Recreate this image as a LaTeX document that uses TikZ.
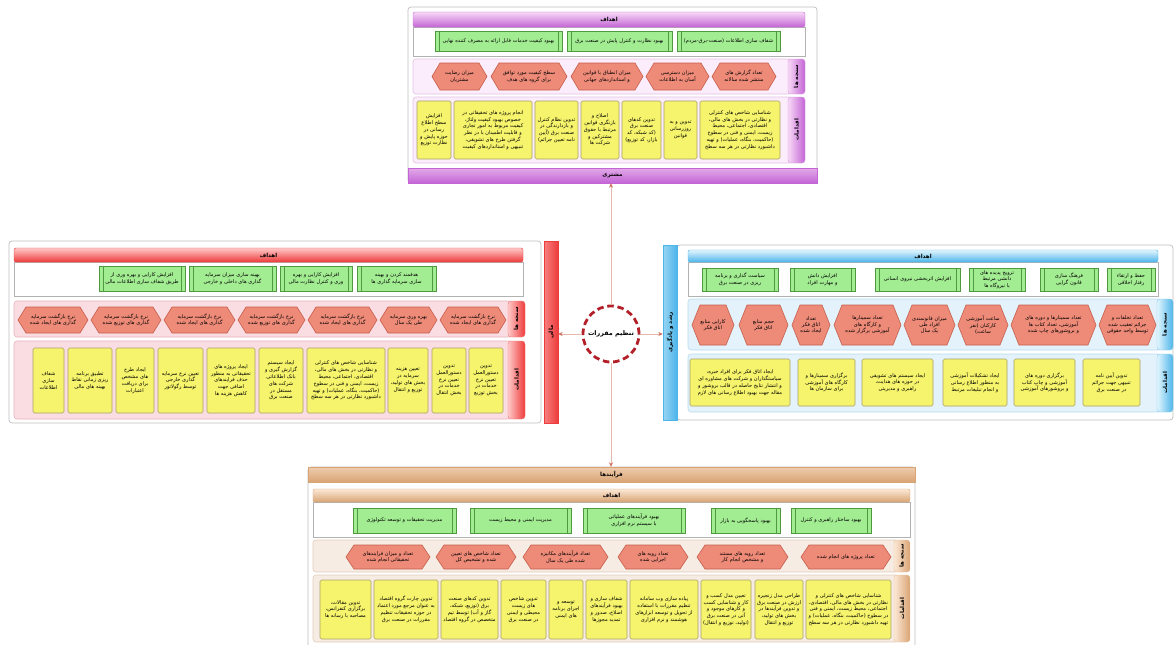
\documentclass[tikz,border=0pt]{standalone}
\usepackage{fontspec}
\newfontfamily\arabicfont[Script=Arabic]{DejaVu Sans}
\TeXXeTstate=1
\usetikzlibrary{arrows.meta}
\newcommand\fa[1]{{\arabicfont #1}}

% theme colours: Lt/Dk = gradient ends, Bd = band fill, Bb = band border
\definecolor{puLt}{HTML}{F7D8F5}\definecolor{puDk}{HTML}{C465D6}
\definecolor{puBd}{HTML}{FBEDFB}\definecolor{puBb}{HTML}{E2C2E4}
\definecolor{rdLt}{HTML}{FFC8C8}\definecolor{rdDk}{HTML}{EE3B3B}
\definecolor{rdBd}{HTML}{FADDE2}\definecolor{rdBb}{HTML}{E8B2BA}
\definecolor{blLt}{HTML}{E2F5FD}\definecolor{blDk}{HTML}{4DB5EA}
\definecolor{blBd}{HTML}{E3F2FB}\definecolor{blBb}{HTML}{B7DCEF}
\definecolor{tnLt}{HTML}{FBE8D6}\definecolor{tnDk}{HTML}{D9A474}
\definecolor{tnBd}{HTML}{F7ECE4}\definecolor{tnBb}{HTML}{E2CCBA}
\definecolor{goalF}{HTML}{A2EC92}\definecolor{goalD}{HTML}{4F9A40}
\definecolor{actF}{HTML}{F6F46C}\definecolor{actD}{HTML}{A89F6A}
\definecolor{hexF}{HTML}{EE8A78}\definecolor{hexD}{HTML}{C65F4D}
\definecolor{connC}{HTML}{E4B9AB}\definecolor{tipC}{HTML}{D0705E}
\definecolor{regC}{HTML}{B3202A}

\tikzset{
  frame/.style={draw=black!25, fill=white, rounded corners=3pt, line width=0.7pt},
  goalarea/.style={draw=black!30, fill=white, line width=0.6pt},
  hdr/.style={top color=#1Lt, bottom color=#1Dk, draw=#1Dk, rounded corners=2pt,
    inner sep=0pt, font=\fontsize{5.6}{6.4}\selectfont\bfseries},
  catbar/.style={top color=#1Lt!60!#1Dk, bottom color=#1Dk, draw=#1Dk, inner sep=0pt,
    font=\fontsize{5.6}{6.4}\selectfont\bfseries},
  vbar/.style={left color=#1Lt!50!#1Dk, right color=#1Dk, draw=#1Dk, inner sep=0pt},
  barlabel/.style={inner sep=0pt, font=\fontsize{5.6}{6.4}\selectfont\bfseries},
  band/.style={fill=#1Bd, draw=#1Bb, rounded corners=3pt, line width=0.6pt},
  tabbox/.style={left color=#1Lt, right color=#1Dk, draw=#1Dk!70!white, rounded corners=3pt,
    inner sep=0pt},
  goalbox/.style={draw=goalD, fill=goalF, line width=0.6pt, inner sep=1pt, align=center,
    font=\fontsize{5.1}{6.6}\selectfont},
  goalline/.style={draw=goalD, line width=0.6pt},
  hex/.style={draw=hexD, fill=hexF, line width=0.6pt},
  hextext/.style={inner sep=0pt, align=center, font=\fontsize{5.1}{6.4}\selectfont},
  actbox/.style={draw=actD, fill=actF, rounded corners=1.5pt, line width=0.6pt, inner sep=1pt,
    align=center, font=\fontsize{5.1}{6.8}\selectfont},
  conn/.style={draw=connC, line width=0.9pt,
    -{Stealth[length=4.5pt,width=4pt,color=tipC,fill=tipC]}},
  hub/.style={circle, draw=regC, fill=white, line width=2.8pt, dash pattern=on 6.5pt off 3.8pt,
    minimum size=56pt, inner sep=0pt, font=\fontsize{6.4}{7.5}\selectfont\bfseries}
}

% green goal box: name, left, right, top, bottom, text
\newcommand\goal[6]{%
  \pgfmathsetmacro\bw{#3-#2}\pgfmathsetmacro\bh{#5-#4}%
  \pgfmathsetmacro\bx{(#2+#3)/2}\pgfmathsetmacro\by{(#4+#5)/2}%
  \pgfmathsetmacro\tw{#3-#2-11}%
  \node[goalbox, minimum width=\bw pt, minimum height=\bh pt, text width=\tw pt] (#1) at (\bx,\by) {\fa{#6}};
  \draw[goalline] ([xshift=4.5pt]#1.north west) -- ([xshift=4.5pt]#1.south west);
  \draw[goalline] ([xshift=-4.5pt]#1.north east) -- ([xshift=-4.5pt]#1.south east);
}
% yellow action box
\newcommand\act[6]{%
  \pgfmathsetmacro\bw{#3-#2}\pgfmathsetmacro\bh{#5-#4}%
  \pgfmathsetmacro\bx{(#2+#3)/2}\pgfmathsetmacro\by{(#4+#5)/2}%
  \pgfmathsetmacro\tw{#3-#2-4}%
  \node[actbox, minimum width=\bw pt, minimum height=\bh pt, text width=\tw pt] (#1) at (\bx,\by) {\fa{#6}};
}
% hexagonal measure
\newcommand\hexa[6]{%
  \pgfmathsetmacro\hm{(#4+#5)/2}\pgfmathsetmacro\hc{(#2+#3)/2}%
  \pgfmathsetmacro\tw{#3-#2-13}%
  \path[hex] (#2,\hm) -- (#2+8,#4) -- (#3-8,#4) -- (#3,\hm) -- (#3-8,#5) -- (#2+8,#5) -- cycle;
  \node[hextext, text width=\tw pt] (#1) at (\hc,\hm) {\fa{#6}};
}
% header bar: name, theme, left, top, right, bottom, text
\newcommand\header[7]{%
  \pgfmathsetmacro\bw{#5-#3}\pgfmathsetmacro\bh{#6-#4}%
  \pgfmathsetmacro\bx{(#3+#5)/2}\pgfmathsetmacro\by{(#4+#6)/2}%
  \node[hdr=#2, minimum width=\bw pt, minimum height=\bh pt] (#1) at (\bx,\by) {\fa{#7}};
}
% side tab with rotated label: name, theme, left, top, right, bottom, text
\newcommand\sidetab[7]{%
  \pgfmathsetmacro\bw{#5-#3}\pgfmathsetmacro\bh{#6-#4}%
  \pgfmathsetmacro\bx{(#3+#5)/2}\pgfmathsetmacro\by{(#4+#6)/2}%
  \node[tabbox=#2, minimum width=\bw pt, minimum height=\bh pt] (#1) at (\bx,\by) {};
  \node[rotate=90, barlabel] (#1-l) at (#1) {\fa{#7}};
}

\begin{document}
\begin{tikzpicture}[x=1pt,y=-1pt]
\useasboundingbox (0,0) rectangle (1176,645);
\fill[white] (0,0) rectangle (1176,645);

%% ---------------- customer panel (top) ----------------
\path[frame] (408,7) rectangle (817,183);
\path[goalarea] (413,27) rectangle (805,56);
\header{tH}{pu}{413}{12}{805}{27}{اهداف}
\goal{tg1}{435}{562}{31}{51}{\beginR بهبود کیفیت خدمات قابل ارائه به مصرف کننده نهایی\endR}
\goal{tg2}{567}{672}{31}{51}{\beginR بهبود نظارت و کنترل پایش در صنعت برق\endR}
\goal{tg3}{677}{780}{31}{51}{\beginR شفاف سازی اطلاعات (صنعت-برق-مردم)\endR}
\path[band=pu] (413,59) rectangle (792,94);
\sidetab{tM}{pu}{788}{59}{805}{94}{\beginR سنجه ها\endR}
\hexa{tm1}{432}{487}{63}{90}{\beginR میزان رضایت مشتریان\endR}
\hexa{tm2}{491}{567}{63}{90}{\beginR سطح کیفیت مورد توافق برای گروه های هدف\endR}
\hexa{tm3}{571}{643}{63}{90}{\beginR میزان انطباق با قوانین و استانداردهای جهانی\endR}
\hexa{tm4}{646}{709}{63}{90}{\beginR میزان دسترسی آسان به اطلاعات\endR}
\hexa{tm5}{712}{776}{63}{90}{\beginR تعداد گزارش های منتشر شده سالانه\endR}
\path[band=pu] (413,97) rectangle (792,163);
\sidetab{tA}{pu}{788}{97}{805}{163}{اقدامات}
\act{ta1}{417}{451}{101}{159}{\beginR افزایش سطح اطلاع رسانی در حوزه پایش و نظارت توزیع\endR}
\act{ta2}{454}{532}{101}{159}{\beginR انجام پروژه های تحقیقاتی در خصوص بهبود کیفیت ولتاژ، کیفیت مربوط به امور تجاری و قابلیت اطمینان با در نظر گرفتن طرح های تشویقی، تنبیهی و استانداردهای کیفیت\endR}
\act{ta3}{535}{578}{101}{159}{\beginR تدوین نظام کنترل و بازدارندگی در صنعت برق (آیین نامه تعیین جرائم)\endR}
\act{ta4}{581}{619}{101}{159}{\beginR اصلاح و بازنگری قوانین مرتبط با حقوق مشترکین و شرکت ها\endR}
\act{ta5}{622}{661}{101}{159}{\beginR تدوین کدهای صنعت برق (کد شبکه، کد بازار، کد توزیع)\endR}
\act{ta6}{664}{697}{101}{159}{\beginR تدوین و به روزرسانی قوانین\endR}
\act{ta7}{700}{780}{101}{159}{\beginR شناسایی شاخص های کنترلی و نظارتی در بخش های مالی، اقتصادی، اجتماعی، محیط زیست، ایمنی و فنی در سطوح (حاکمیت، بنگاه، عملیات) و تهیه داشبورد نظارتی در هر سه سطح\endR}
\node[catbar=pu, minimum width=409pt, minimum height=15pt] (topbar) at (612.5,175.5) {\fa{مشتری}};

%% ---------------- financial panel (left) ----------------
\path[frame] (9,241) rectangle (541,423);
\path[goalarea] (14,262) rectangle (523,296);
\header{lH}{rd}{14}{248}{523}{262}{اهداف}
\goal{lg1}{99}{185}{266}{291}{\beginR افزایش کارایی و بهره وری از طریق شفاف سازی اطلاعات مالی\endR}
\goal{lg2}{189}{276}{266}{291}{\beginR بهینه سازی میزان سرمایه گذاری های داخلی و خارجی\endR}
\goal{lg3}{280}{352}{266}{291}{\beginR افزایش کارایی و بهره وری و کنترل نظارت مالی\endR}
\goal{lg4}{357}{436}{266}{291}{\beginR هدفمند کردن و بهینه سازی سرمایه گذاری ها\endR}
\path[band=rd] (14,301) rectangle (512,337);
\sidetab{lM}{rd}{508}{301}{525}{337}{\beginR سنجه ها\endR}
\hexa{lm1}{18}{88}{307}{333}{\beginR نرخ بازگشت سرمایه گذاری های ایجاد شده\endR}
\hexa{lm2}{91}{161}{307}{333}{\beginR نرخ بازگشت سرمایه گذاری های توزیع شده\endR}
\hexa{lm3}{164}{235}{307}{333}{\beginR نرخ بازگشت سرمایه گذاری های ایجاد شده\endR}
\hexa{lm4}{238}{305}{307}{333}{\beginR نرخ بازگشت سرمایه گذاری های توزیع شده\endR}
\hexa{lm5}{308}{377}{307}{333}{\beginR نرخ بازگشت سرمایه گذاری های ایجاد شده\endR}
\hexa{lm6}{380}{437}{307}{333}{\beginR بهره وری سرمایه طی یک سال\endR}
\hexa{lm7}{440}{506}{307}{333}{\beginR نرخ بازگشت سرمایه گذاری های ایجاد شده\endR}
\path[band=rd] (14,341) rectangle (512,419);
\sidetab{lA}{rd}{508}{341}{525}{419}{اقدامات}
\act{la1}{33}{64}{348}{413}{\beginR شفاف سازی اطلاعات\endR}
\act{la2}{68}{112}{348}{413}{\beginR تطبیق برنامه ریزی زمانی نقاط بهینه های مالی\endR}
\act{la3}{116}{154}{348}{413}{\beginR ایجاد طرح های مشخص برای دریافت اعتبارات\endR}
\act{la4}{158}{203}{348}{413}{\beginR تعیین نرخ سرمایه گذاری خارجی توسط رگولاتور\endR}
\act{la5}{207}{255}{348}{413}{\beginR ایجاد پروژه های تحقیقاتی به منظور حذف فرایندهای اضافی جهت کاهش هزینه ها\endR}
\act{la6}{259}{303}{348}{413}{\beginR ایجاد سیستم گزارش گیری و بانک اطلاعاتی شرکت های مستقل در صنعت برق\endR}
\act{la7}{307}{385}{348}{413}{\beginR شناسایی شاخص های کنترلی و نظارتی در بخش های مالی، اقتصادی، اجتماعی، محیط زیست، ایمنی و فنی در سطوح (حاکمیت، بنگاه، عملیات) و تهیه داشبورد نظارتی در هر سه سطح\endR}
\act{la8}{388}{428}{348}{413}{\beginR تعیین هزینه سرمایه در بخش های تولید، توزیع و انتقال\endR}
\act{la9}{432}{466}{348}{413}{\beginR تدوین دستورالعمل تعیین نرخ خدمات در بخش انتقال\endR}
\act{la10}{469}{503}{348}{413}{\beginR تدوین دستورالعمل تعیین نرخ خدمات در بخش توزیع\endR}
\node[vbar=rd, minimum width=14pt, minimum height=182pt] (leftbar) at (551,332) {};
\node[rotate=90, barlabel] (leftbar-l) at (leftbar) {\fa{مالی}};

%% ---------------- learning and growth panel (right) ----------------
\path[frame] (677,245) rectangle (1173,420);
\path[goalarea] (688,262) rectangle (1158,296);
\header{rH}{bl}{688}{250}{1158}{262}{اهداف}
\goal{rg1}{702}{778}{268}{291}{\beginR سیاست گذاری و برنامه ریزی در صنعت برق\endR}
\goal{rg2}{790}{855}{268}{291}{\beginR افزایش دانش و مهارت افراد\endR}
\goal{rg3}{875}{960}{268}{291}{\beginR افزایش اثربخشی نیروی انسانی\endR}
\goal{rg4}{969}{1025}{268}{291}{\beginR ترویج پدیده های دانشی مرتبط با نیروگاه ها\endR}
\goal{rg5}{1040}{1098}{268}{291}{\beginR فرهنگ سازی قانون گرایی\endR}
\goal{rg6}{1107}{1155}{268}{291}{\beginR حفظ و ارتقاء رفتار اخلاقی\endR}
\path[band=bl] (688,299) rectangle (1161,350);
\sidetab{rM}{bl}{1157}{299}{1173}{350}{\beginR سنجه ها\endR}
\hexa{rm1}{692}{734}{305}{345}{\beginR کارایی منابع اتاق فکر\endR}
\hexa{rm2}{739}{788}{305}{345}{\beginR حجم منابع اتاق فکر\endR}
\hexa{rm3}{792}{830}{305}{345}{\beginR تعداد اتاق فکر ایجاد شده\endR}
\hexa{rm4}{834}{901}{305}{345}{\beginR تعداد سمینارها و کارگاه های آموزشی برگزار شده\endR}
\hexa{rm5}{904}{955}{305}{345}{\beginR میزان قانونمندی افراد طی یک سال\endR}
\hexa{rm6}{958}{1008}{305}{345}{\beginR ساعت آموزشی کارکنان (نفر ساعت)\endR}
\hexa{rm7}{1011}{1096}{305}{345}{\beginR تعداد سمینارها و دوره های آموزشی، تعداد کتاب ها و بروشورهای چاپ شده\endR}
\hexa{rm8}{1099}{1156}{305}{345}{\beginR تعداد تخلفات و جرائم تعقیب شده توسط واحد حقوقی\endR}
\path[band=bl] (688,354) rectangle (1161,412);
\sidetab{rA}{bl}{1157}{354}{1173}{412}{اقدامات}
\act{ra1}{690}{790}{359}{406}{\beginR ایجاد اتاق فکر برای افراد خبره، سیاستگذاران و شرکت های مشاوره ای و انتشار نتایج حاصله در قالب بروشور و مقاله جهت بهبود اطلاع رسانی های لازم\endR}
\act{ra2}{798}{855}{359}{406}{\beginR برگزاری سمینارها و کارگاه های آموزشی برای سازمان ها\endR}
\act{ra3}{862}{933}{359}{406}{\beginR ایجاد سیستم های تشویقی در حوزه های هدایت، راهبری و مدیریتی\endR}
\act{ra4}{943}{1007}{359}{406}{\beginR ایجاد تشکیلات آموزشی به منظور اطلاع رسانی و انجام تبلیغات مرتبط\endR}
\act{ra5}{1014}{1075}{359}{406}{\beginR برگزاری دوره های آموزشی و چاپ کتاب و بروشورهای آموزشی\endR}
\act{ra6}{1083}{1140}{359}{406}{\beginR تدوین آیین نامه تنبیهی جهت جرائم در صنعت برق\endR}
\node[vbar=bl, minimum width=14pt, minimum height=175pt] (rightbar) at (670,332.5) {};
\node[rotate=90, barlabel] (rightbar-l) at (rightbar) {\fa{\beginR رشد و یادگیری\endR}};

%% ---------------- processes panel (bottom) ----------------
\path[frame] (308,467) rectangle (915,652);
\node[catbar=tn, minimum width=607pt, minimum height=15pt] (botbar) at (611.5,474.5) {\fa{فرآیندها}};
\path[goalarea] (313,502) rectangle (910,537);
\header{bH}{tn}{313}{489}{910}{502}{اهداف}
\goal{bg1}{353}{456}{508}{533}{\beginR مدیریت تحقیقات و توسعه تکنولوژی\endR}
\goal{bg2}{470}{571}{508}{533}{\beginR مدیریت ایمنی و محیط زیست\endR}
\goal{bg3}{583}{685}{508}{533}{\beginR بهبود فرآیندهای عملیاتی با سیستم نرم افزاری\endR}
\goal{bg4}{711}{780}{508}{533}{\beginR بهبود پاسخگویی به بازار\endR}
\goal{bg5}{791}{871}{508}{533}{\beginR بهبود ساختار راهبری و کنترل\endR}
\path[band=tn] (313,540) rectangle (898,572);
\sidetab{bM}{tn}{894}{540}{910}{572}{\beginR سنجه ها\endR}
\hexa{bm1}{346}{430}{545}{569}{\beginR تعداد و میزان فرایندهای تحقیقاتی انجام شده\endR}
\hexa{bm2}{436}{516}{545}{569}{\beginR تعداد شاخص های تعیین شده و تشخیص کل\endR}
\hexa{bm3}{523}{608}{545}{569}{\beginR تعداد فرآیندهای مکانیزه شده طی یک سال\endR}
\hexa{bm4}{618}{688}{545}{569}{\beginR تعداد رویه های اجرایی شده\endR}
\hexa{bm5}{697}{788}{545}{569}{\beginR تعداد رویه های مستند و مشخص انجام کار\endR}
\hexa{bm6}{801}{891}{545}{569}{\beginR تعداد پروژه های انجام شده\endR}
\path[band=tn] (313,575) rectangle (898,642);
\sidetab{bA}{tn}{894}{575}{910}{642}{اقدامات}
\act{ba1}{320}{371}{580}{639}{\beginR تدوین مقالات، برگزاری کنفرانس، مصاحبه با رسانه ها\endR}
\act{ba2}{374}{438}{580}{639}{\beginR تدوین چارت گروه اقتصاد به عنوان مرجع مورد اعتماد در حوزه تحقیقات تنظیم مقررات در صنعت برق\endR}
\act{ba3}{441}{498}{580}{639}{\beginR تدوین کدهای صنعت برق (توزیع، شبکه، گاز و آب) توسط تیم متخصص در گروه اقتصاد\endR}
\act{ba4}{501}{546}{580}{639}{\beginR تدوین شاخص های زیست محیطی و ایمنی در صنعت برق\endR}
\act{ba5}{549}{583}{580}{639}{\beginR توسعه و اجرای برنامه های ایمنی\endR}
\act{ba6}{586}{627}{580}{639}{\beginR شفاف سازی و بهبود فرآیندهای اصلاح، صدور و تمدید مجوزها\endR}
\act{ba7}{630}{698}{580}{639}{\beginR پیاده سازی وب سامانه تنظیم مقررات با استفاده از تحویل و توسعه ابزارهای هوشمند و نرم افزاری\endR}
\act{ba8}{701}{751}{580}{639}{\beginR تعیین مدل کسب و کار و شناسایی کسب و کارهای موجود و آتی در صنعت برق (تولید، توزیع و انتقال)\endR}
\act{ba9}{755}{803}{580}{639}{\beginR طراحی مدل زنجیره ارزش در صنعت برق و تدوین فرآیندها در بخش های تولید، توزیع و انتقال\endR}
\act{ba10}{806}{891}{580}{639}{\beginR شناسایی شاخص های کنترلی و نظارتی در بخش های مالی، اقتصادی، اجتماعی، محیط زیست، ایمنی و فنی در سطوح (حاکمیت، بنگاه، عملیات) و تهیه داشبورد نظارتی در هر سه سطح\endR}

%% ---------------- hub and connectors ----------------
\node[hub] (reg) at (611,334) {\fa{\beginR تنظیم مقررات\endR}};
\draw[conn] (reg.north) -- (reg.north |- topbar.south);
\draw[conn] (reg.west) -- (reg.west -| leftbar.east);
\draw[conn] (reg.east) -- (reg.east -| rightbar.west);
\draw[conn] (reg.south) -- (reg.south |- botbar.north);
\end{tikzpicture}
\end{document}
